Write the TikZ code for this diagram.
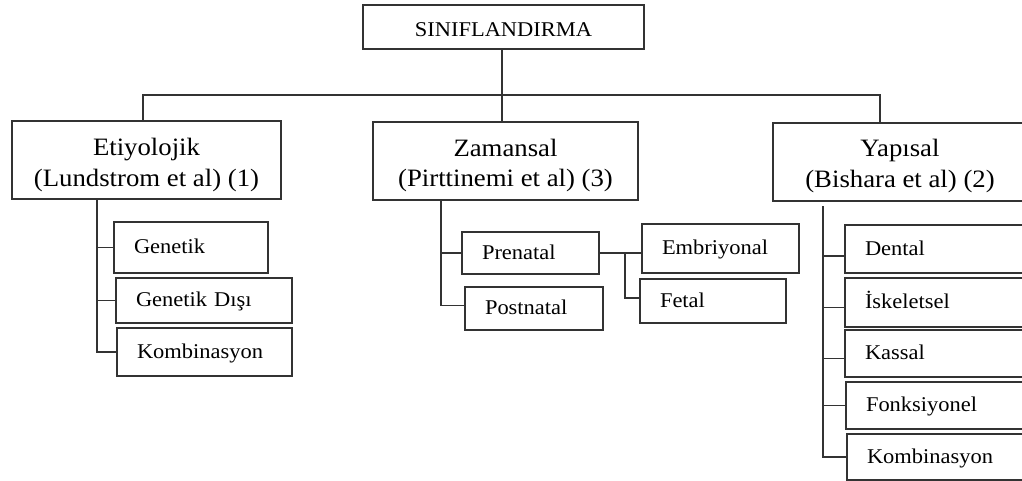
\documentclass[tikz,border=0pt]{standalone}
\usepackage{fontspec}
\setmainfont[FakeStretch=1.07]{Liberation Serif}
\begin{document}
\begin{tikzpicture}[x=1pt,y=-1pt,
  every node/.style={outer sep=0pt},
  topbox/.style={draw=black!80, line width=1.8pt, font=\fontsize{21}{25}\selectfont, inner sep=0pt,
    text height=20pt, text depth=0.6pt},
  bigbox/.style={draw=black!80, line width=1.8pt, font=\fontsize{25}{31}\selectfont, align=center,
    inner sep=0pt, minimum height=78pt},
  smallbox/.style={draw=black!80, line width=1.8pt, font=\fontsize{21}{25}\selectfont, anchor=north west,
    inner xsep=20pt, inner ysep=0pt, align=left, text height=17pt, text depth=5pt},
  link/.style={line width=1.8pt, draw=black!80}
]
\useasboundingbox (0,0) rectangle (1022,481);
\clip (0,0) rectangle (1022,481);

% top
\node[topbox, minimum width=281pt, minimum height=44pt] (top) at (503.5,27) {SINIFLANDIRMA};

% level 1
\newcommand{\firstup}{\rule{0pt}{27pt}}
\newcommand{\lastdown}{\rule[-6pt]{0pt}{6pt}}
\node[bigbox, minimum width=269pt] (etiy) at (146.5,160)
  {\firstup Etiyolojik\\(Lundstrom et al) (1)\lastdown};
\node[bigbox, minimum width=265pt] (zam) at (505.5,161)
  {\firstup Zamansal\\(Pirttinemi et al) (3)\lastdown};
\node[bigbox, minimum width=254pt] (yap) at (900,162)
  {\firstup Yap\i sal\\(Bishara et al) (2)\lastdown};

% left children
\node[smallbox, text width=114pt, minimum height=51pt] (gen) at (114,222) {Genetik};
\node[smallbox, text width=136pt, minimum height=45pt] (gend) at (116,278) {Genetik D\i \c s\i};
\node[smallbox, text width=135pt, minimum height=48pt] (komb) at (117,328) {Kombinasyon};

% middle children
\node[smallbox, text width=97pt, minimum height=42pt] (pre) at (462,232) {Prenatal};
\node[smallbox, text width=98pt, minimum height=43pt] (post) at (465,287) {Postnatal};
\node[smallbox, text width=117pt, minimum height=49pt] (emb) at (642,224) {Embriyonal};
\node[smallbox, text width=106pt, minimum height=44pt] (fet) at (640,279) {Fetal};

% right children
\node[smallbox, text width=150pt, minimum height=48pt] (den) at (845,225) {Dental};
\node[smallbox, text width=150pt, minimum height=49pt] (isk) at (845,278) {\.Iskeletsel};
\node[smallbox, text width=150pt, minimum height=47pt] (kas) at (845,330) {Kassal};
\node[smallbox, text width=150pt, minimum height=47pt] (fon) at (846,382) {Fonksiyonel};
\node[smallbox, text width=150pt, minimum height=46pt] (kombr) at (847,434) {Kombinasyon};

% branch coordinates
\coordinate (hl) at (143,95);
\coordinate (hm) at (502,95);
\coordinate (hr) at (880,95);
\coordinate (lv) at (97,0);
\coordinate (mv) at (441,0);
\coordinate (fv) at (625,0);
\coordinate (rv) at (823,0);

% top connectors
\draw[link] (top.south -| hm) -- (hm);
\draw[link] (etiy.north -| hl) -- (hl) -- (hr) -- (yap.north -| hr);
\draw[link] (hm) -- (zam.north -| hm);

% left connectors
\draw[link] (etiy.south -| lv) -- (komb.west -| lv) -- (komb.west);
\draw[link] (gen.west -| lv) -- (gen.west);
\draw[link] (gend.west -| lv) -- (gend.west);

% middle connectors
\draw[link] (zam.south -| mv) -- ([yshift=3pt]post.west -| mv) -- ([yshift=3pt]post.west);
\draw[link] (pre.west -| mv) -- (pre.west);
\draw[link] (pre.east) -- (pre.east -| emb.west);
\draw[link] (pre.east -| fv) -- ([yshift=3pt]fet.west -| fv) -- ([yshift=3pt]fet.west);

% right connectors
\draw[link] ([yshift=-5pt]yap.south -| rv) -- (kombr.west -| rv) -- (kombr.west);
\draw[link] ([yshift=-7pt]den.west -| rv) -- ([yshift=-7pt]den.west);
\draw[link] ([yshift=-5pt]isk.west -| rv) -- ([yshift=-5pt]isk.west);
\draw[link] ([yshift=-5pt]kas.west -| rv) -- ([yshift=-5pt]kas.west);
\draw[link] (fon.west -| rv) -- (fon.west);
\end{tikzpicture}
\end{document}
